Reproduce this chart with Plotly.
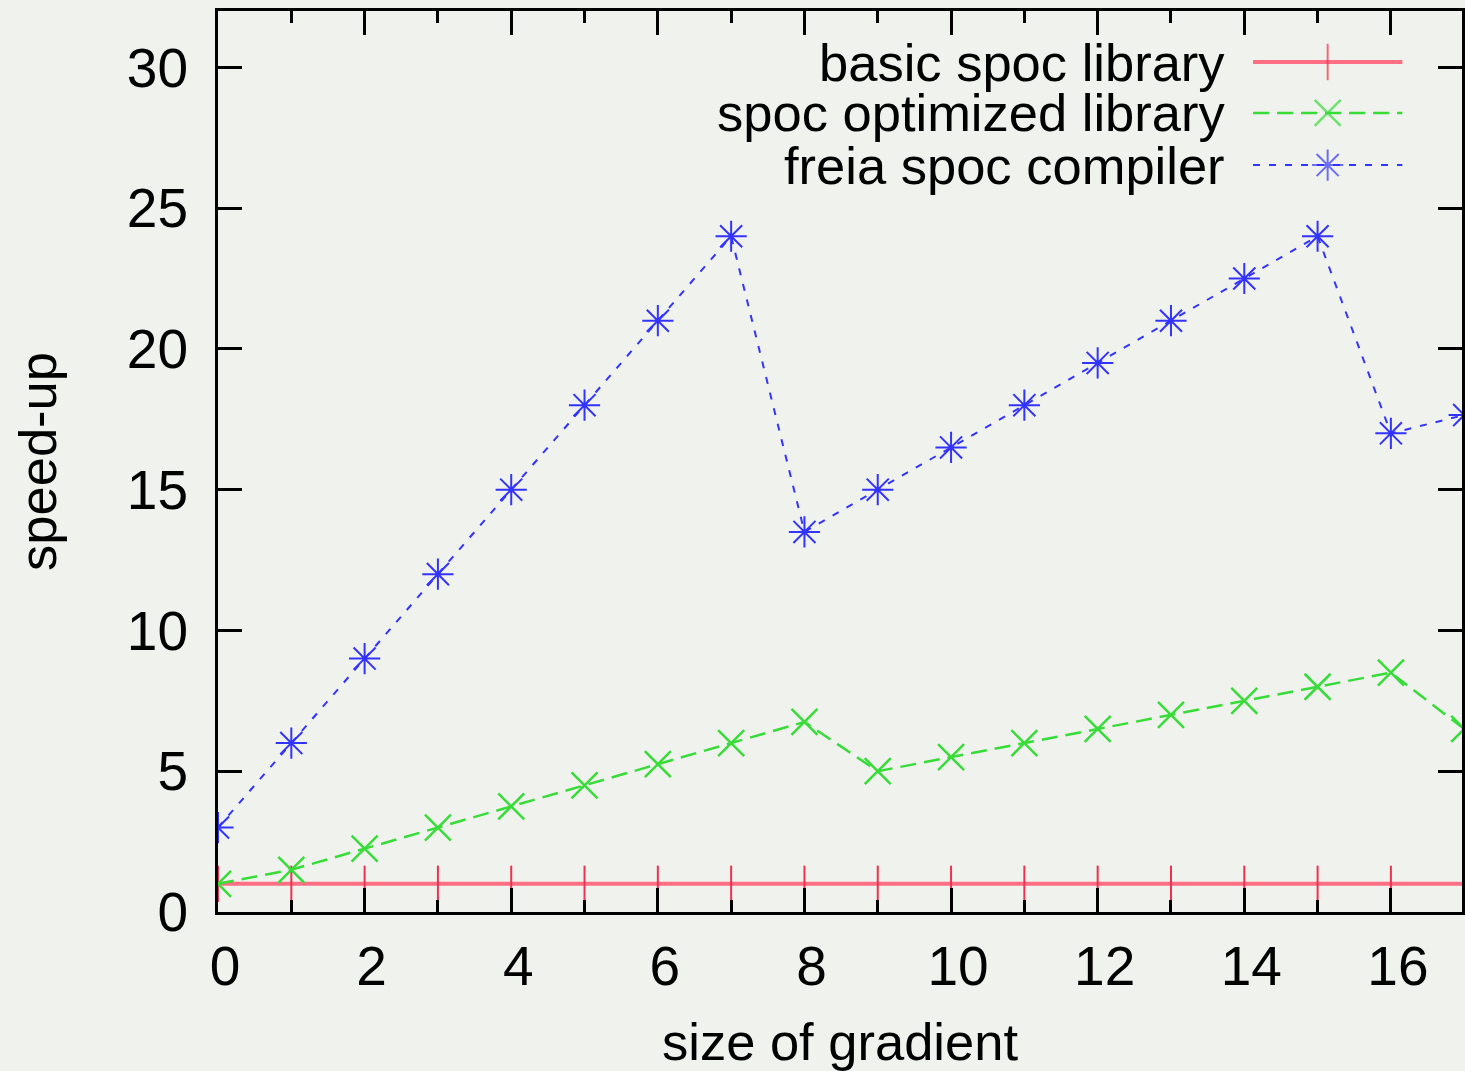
import plotly.graph_objects as go

x_vals = list(range(0, 18))
basic_lib = [1] * 18
optimized_lib = [1, 1.5, 2.25, 3, 3.75, 4.5, 5.25, 6, 6.75, 5, 5.5, 6, 6.5, 7, 7.5, 8, 8.5, 6.5]
freia_compiler = [3, 6, 9, 12, 15, 18, 21, 24, 13.5, 15, 16.5, 18, 19.5, 21, 22.5, 24, 17, 17.65]

series_names = ["basic spoc library", "spoc optimized library", "freia spoc compiler"]
x_ticks = [0, 2, 4, 6, 8, 10, 12, 14, 16]
y_ticks = [0, 5, 10, 15, 20, 25, 30]

RED_LINE = "#ff6f84"
RED_MARK = "#f0304f"
GREEN = "#38dc38"
BLUE = "#3333ff"
FONT = "Liberation Sans, Arial, Helvetica, sans-serif"
TXT = 52.5
TICK = 55

fig = go.Figure()

fig.add_trace(go.Scatter(
    x=x_vals, y=basic_lib, mode="lines+markers", name=series_names[0],
    line=dict(color=RED_LINE, width=4),
    marker=dict(symbol="line-ns", size=26, line=dict(color=RED_MARK, width=2)),
    showlegend=False))
fig.add_trace(go.Scatter(
    x=x_vals, y=optimized_lib, mode="lines+markers", name=series_names[1],
    line=dict(color=GREEN, width=2.5, dash="16px,8px"),
    marker=dict(symbol="x-thin", size=26, line=dict(color=GREEN, width=2.5)),
    showlegend=False))
fig.add_trace(go.Scatter(
    x=x_vals, y=freia_compiler, mode="lines+markers", name=series_names[2],
    line=dict(color=BLUE, width=2, dash="7px,9px"),
    marker=dict(symbol="asterisk-open", size=26, line=dict(color=BLUE, width=2)),
    showlegend=False))

# Manual gnuplot-style legend (text on the left, sample on the right), on an overlay axis in paper-like units
leg_y = [0.9434, 0.8868, 0.829]
leg_styles = [
    dict(line=dict(color=RED_LINE, width=4),
         marker=dict(symbol="line-ns", size=26, line=dict(color=RED_MARK, width=2))),
    dict(line=dict(color=GREEN, width=2.5, dash="16px,8px"),
         marker=dict(symbol="x-thin", size=26, line=dict(color=GREEN, width=2.5))),
    dict(line=dict(color=BLUE, width=2, dash="7px,9px"),
         marker=dict(symbol="asterisk-open", size=26, line=dict(color=BLUE, width=2))),
]
for name, yy, st in zip(series_names, leg_y, leg_styles):
    fig.add_trace(go.Scatter(
        x=[0.832, 0.892, 0.952], y=[yy, yy, yy], mode="lines+markers",
        xaxis="x2", yaxis="y2", showlegend=False, hoverinfo="skip",
        line=st["line"], marker=dict(st["marker"], size=[0, st["marker"]["size"], 0])))
    fig.add_annotation(x=0.811, y=yy, xref="x2", yref="y2", text=name,
                       showarrow=False, xanchor="right", yanchor="middle",
                       font=dict(family=FONT, size=TXT, color="black"))

fig.update_layout(
    width=1465, height=1071,
    margin=dict(l=218, r=0, t=11, b=159),
    paper_bgcolor="#f0f2ee", plot_bgcolor="rgba(0,0,0,0)",
    font=dict(family=FONT, size=TICK, color="black"),
    showlegend=False,
    xaxis=dict(range=[0, 16.97], tickvals=x_ticks, ticks="inside", ticklen=24, tickwidth=2.5,
               tickcolor="black", showline=True, linecolor="black", linewidth=3,
               mirror="ticks", showgrid=False, zeroline=False, ticklabelstandoff=4,
               ticklabelshift=7,
               minor=dict(dtick=1, ticks="inside", ticklen=12, tickwidth=2.5, tickcolor="black", showgrid=False),
               title=dict(text="size of gradient", font=dict(size=TXT), standoff=30)),
    yaxis=dict(range=[0, 32], tickvals=y_ticks, ticks="inside", ticklen=24, tickwidth=2.5,
               tickcolor="black", showline=True, linecolor="black", linewidth=3,
               mirror="ticks", showgrid=False, zeroline=False, ticklabelstandoff=16,
               title=dict(text="speed-up", font=dict(size=TXT), standoff=54)),
    xaxis2=dict(range=[0, 1], overlaying="x", visible=False, fixedrange=True),
    yaxis2=dict(range=[0, 1], overlaying="y", visible=False, fixedrange=True),
)

fig.write_html("out.html")
